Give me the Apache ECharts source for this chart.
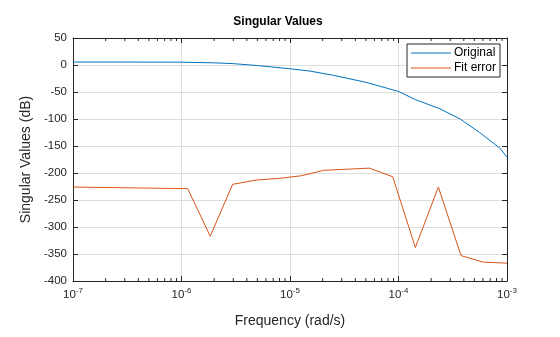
<!DOCTYPE html>
<html>
<head>
<meta charset="utf-8">
<script src="https://cdn.jsdelivr.net/npm/echarts@6/dist/echarts.min.js"></script>
<style>
  html, body { margin: 0; padding: 0; background: #fff; }
  #chart { width: 560px; height: 337px; }
</style>
</head>
<body>
<div id="chart"></div>
<script>
// Frequency response data (rad/s, dB)
const originalFreq = [1e-7, 3e-7, 1e-6, 2e-6, 3e-6, 5e-6, 1e-5, 1.5e-5, 2.5e-5, 5e-5, 1e-4, 1.43e-4, 2.4e-4, 3.7e-4, 5.6e-4, 8.6e-4, 1e-3];
const originalDb   = [5.5, 5.5, 5.2, 4, 2.5, -1, -7, -11, -19, -32, -49, -64, -81, -100, -125, -154, -171];

const errorFreq = [1e-7, 1.14e-6, 1.84e-6, 2.96e-6, 4.9e-6, 7.9e-6, 1.28e-5, 2.05e-5, 3.3e-5, 5.4e-5, 8.85e-5, 1.43e-4, 2.33e-4, 3.77e-4, 6.05e-4, 1e-3];
const errorDb   = [-226, -229, -317, -221, -213, -210, -205, -195, -193, -191, -207, -338, -226, -353, -365, -367];

const seriesNames = ['Original', 'Fit error'];
const yTicks = { min: -400, max: 50, interval: 50 };
const xRange = { min: 1e-7, max: 1e-3 };

// minor tick positions of the log axis: 2..9 times each decade
const minorTicks = [];
for (let e = -7; e < -3; e++) {
  for (let m = 2; m <= 9; m++) minorTicks.push(m * Math.pow(10, e));
}

const FONT = "'Liberation Sans', Arial, sans-serif";
const AXIS_COLOR = '#262626';
const GRID_COLOR = '#dedede';

const chart = echarts.init(document.getElementById('chart'), null, { renderer: 'canvas' });

function pairs(xs, ys) { return xs.map((x, i) => [x, ys[i]]); }

const supFmt = v => {
  const e = Math.round(Math.log10(v));
  return '{b|10}{s|' + e + '}';
};

chart.setOption({
  animation: false,
  backgroundColor: '#ffffff',
  title: {
    text: 'Singular Values',
    left: 273, top: 11, textAlign: 'center',
    textStyle: { fontFamily: FONT, fontSize: 12, fontWeight: 'bold', color: '#000' }
  },
  legend: {
    data: seriesNames,
    orient: 'vertical',
    right: 60, top: 44,
    itemWidth: 40, itemHeight: 1, itemGap: 3,
    padding: [3, 4, 3, 4],
    borderColor: AXIS_COLOR, borderWidth: 1, backgroundColor: '#fff',
    textStyle: { fontFamily: FONT, fontSize: 12, color: '#000', padding: [0, 0, 0, -2] },
    icon: 'rect'
  },
  grid: { left: 73, right: 53, top: 38, bottom: 56 },
  xAxis: [
    {
      type: 'log', logBase: 10, min: xRange.min, max: xRange.max,
      name: 'Frequency (rad/s)', nameLocation: 'middle', nameGap: 33,
      nameTextStyle: { fontFamily: FONT, fontSize: 14, color: AXIS_COLOR },
      axisLine: { onZero: false, lineStyle: { color: AXIS_COLOR, width: 1 } },
      axisTick: { inside: true, length: 5, lineStyle: { color: AXIS_COLOR } },
      axisLabel: {
        formatter: supFmt, margin: 6,
        rich: {
          b: { fontFamily: FONT, fontSize: 11.5, color: AXIS_COLOR, verticalAlign: 'bottom' },
          s: { fontFamily: FONT, fontSize: 8, color: AXIS_COLOR, verticalAlign: 'top', padding: [0, 0, 6, 0] }
        }
      },
      splitLine: { show: true, lineStyle: { color: GRID_COLOR, width: 1 } }
    },
    {
      type: 'log', logBase: 10, min: xRange.min, max: xRange.max, position: 'top',
      axisLine: { onZero: false, lineStyle: { color: AXIS_COLOR, width: 1 } },
      axisTick: { inside: true, length: 5, lineStyle: { color: AXIS_COLOR } },
      axisLabel: { show: false }, splitLine: { show: false }
    }
  ],
  yAxis: [
    {
      type: 'value', min: yTicks.min, max: yTicks.max, interval: yTicks.interval,
      name: 'Singular Values (dB)', nameLocation: 'middle', nameGap: 36,
      nameTextStyle: { fontFamily: FONT, fontSize: 14, color: AXIS_COLOR },
      axisLine: { show: true, onZero: false, lineStyle: { color: AXIS_COLOR, width: 1 } },
      axisTick: { show: true, inside: true, length: 5, lineStyle: { color: AXIS_COLOR } },
      axisLabel: { fontFamily: FONT, fontSize: 11.5, color: AXIS_COLOR, margin: 6 },
      splitLine: { show: true, lineStyle: { color: GRID_COLOR, width: 1 } }
    },
    {
      type: 'value', min: yTicks.min, max: yTicks.max, interval: yTicks.interval, position: 'right',
      axisLine: { show: true, onZero: false, lineStyle: { color: AXIS_COLOR, width: 1 } },
      axisTick: { show: true, inside: true, length: 5, lineStyle: { color: AXIS_COLOR } },
      axisLabel: { show: false }, splitLine: { show: false }
    }
  ],
  series: [
    {
      name: seriesNames[0], type: 'line', data: pairs(originalFreq, originalDb),
      showSymbol: false, smooth: false, z: 3,
      lineStyle: { color: '#0072BD', width: 1 }, itemStyle: { color: '#0072BD' }
    },
    {
      name: seriesNames[1], type: 'line', data: pairs(errorFreq, errorDb),
      showSymbol: false, smooth: false, z: 3,
      lineStyle: { color: '#D95319', width: 1 }, itemStyle: { color: '#D95319' }
    },
    {
      // logarithmic minor ticks on bottom and top edges
      type: 'custom', silent: true, z: 4,
      data: minorTicks.map(v => [v]),
      renderItem: (params, api) => {
        const x = api.coord([api.value(0), yTicks.min])[0];
        const yb = api.coord([api.value(0), yTicks.min])[1];
        const yt = api.coord([api.value(0), yTicks.max])[1];
        const st = { stroke: AXIS_COLOR, lineWidth: 1 };
        return {
          type: 'group',
          children: [
            { type: 'line', shape: { x1: x, y1: yb, x2: x, y2: yb - 3 }, style: st },
            { type: 'line', shape: { x1: x, y1: yt, x2: x, y2: yt + 3 }, style: st }
          ]
        };
      }
    }
  ]
});
</script>
</body>
</html>
